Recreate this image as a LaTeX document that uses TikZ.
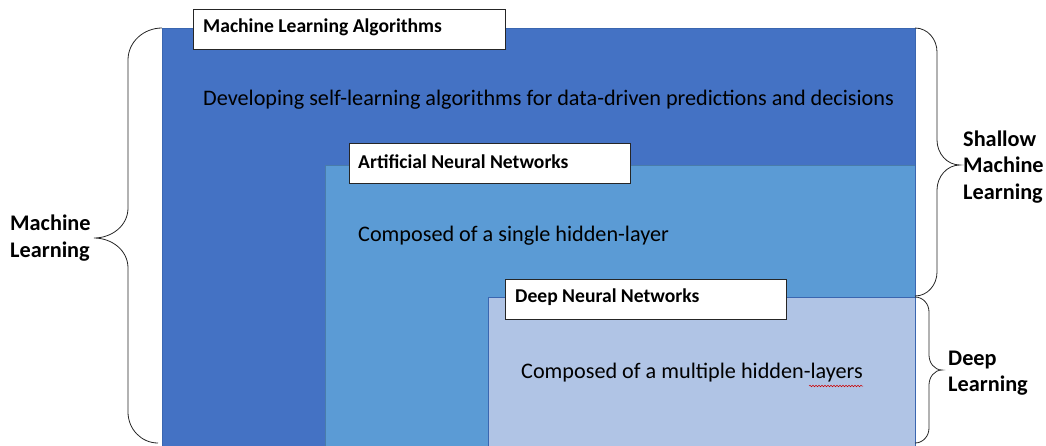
\documentclass[tikz,border=0pt]{standalone}
\usepackage{fontspec}
\setmainfont{Carlito}
\usetikzlibrary{decorations.pathmorphing}
\definecolor{dblue}{HTML}{4472C4}
\definecolor{mblue}{HTML}{5B9BD5}
\definecolor{lblue}{HTML}{B0C4E5}
\definecolor{edge}{HTML}{3A66B0}
\tikzset{
  area/.style={draw=edge, line width=0.7pt},
  labelbox/.style={draw=black!85, fill=white, line width=0.9pt},
  title/.style={anchor=west, inner sep=0pt, font=\fontsize{19.6}{22}\selectfont\bfseries},
  body/.style={anchor=west, inner sep=0pt, font=\fontsize{22.2}{26}\selectfont},
  side/.style={anchor=west, inner sep=0pt, align=left, font=\fontsize{22.3}{26.5}\selectfont\bfseries},
  brace/.style={draw=black!85, line width=0.8pt},
}
\begin{document}
\begin{tikzpicture}[x=1pt, y=-1pt]
\useasboundingbox (0,0) rectangle (1046,445);
% areas
\fill[dblue] (162,28) rectangle (915,446);
\draw[area] (162,446) -- (162,28) -- (915,28) -- (915,446);
\fill[mblue] (325,165) rectangle (915,446);
\draw[area, draw=mblue!80!black] (325,446) -- (325,165) -- (915,165);
\fill[lblue] (488,297) rectangle (915,446);
\draw[area] (488,446) -- (488,297) -- (915,297) -- (915,446);
% label boxes
\draw[labelbox] (193,9) rectangle (505,49);
\node[title] (mla) at (203,27.5) {Machine Learning Algorithms};
\draw[labelbox] (349,143) rectangle (630,183);
\node[title] (ann) at (358,161.5) {Artificial Neural Networks};
\draw[labelbox] (505,279) rectangle (786,319);
\node[title] (dnn) at (515,297.5) {Deep Neural Networks};
% body texts
\node[body] (t1) at (203,99.5) {Developing self-learning algorithms for data-driven predictions and decisions};
\node[body] (t2) at (358,235.5) {Composed of a single hidden-layer};
\node[body] (t3) at (521,372.5) {Composed of a multiple hidden-layers};
\draw[red!80!black, line width=0.5pt, decorate, decoration={snake, amplitude=0.8pt, segment length=3pt}] (809,386) -- (863,386);
% braces
\draw[brace] (162,28) to[out=180,in=90] (128,60) -- (128,208) to[out=-90,in=0] (94,238) to[out=0,in=90] (128,268) -- (128,412) to[out=-90,in=180] (158,443);
\draw[brace] (915,28) to[out=0,in=90] (937,52) -- (937,140) to[out=-90,in=180] (960,165) to[out=180,in=90] (937,190) -- (937,272) to[out=-90,in=0] (915,296);
\draw[brace] (915,297) to[out=0,in=90] (929,312) -- (929,355) to[out=-90,in=180] (942,370) to[out=180,in=90] (929,385) -- (929,428) to[out=-90,in=0] (915,443);
% side labels
\node[side] (ml) at (10,238) {Machine\\Learning};
\node[side] (sml) at (963,167) {Shallow\\Machine\\Learning};
\node[side] (dl) at (948,373) {Deep\\Learning};
\end{tikzpicture}
\end{document}
